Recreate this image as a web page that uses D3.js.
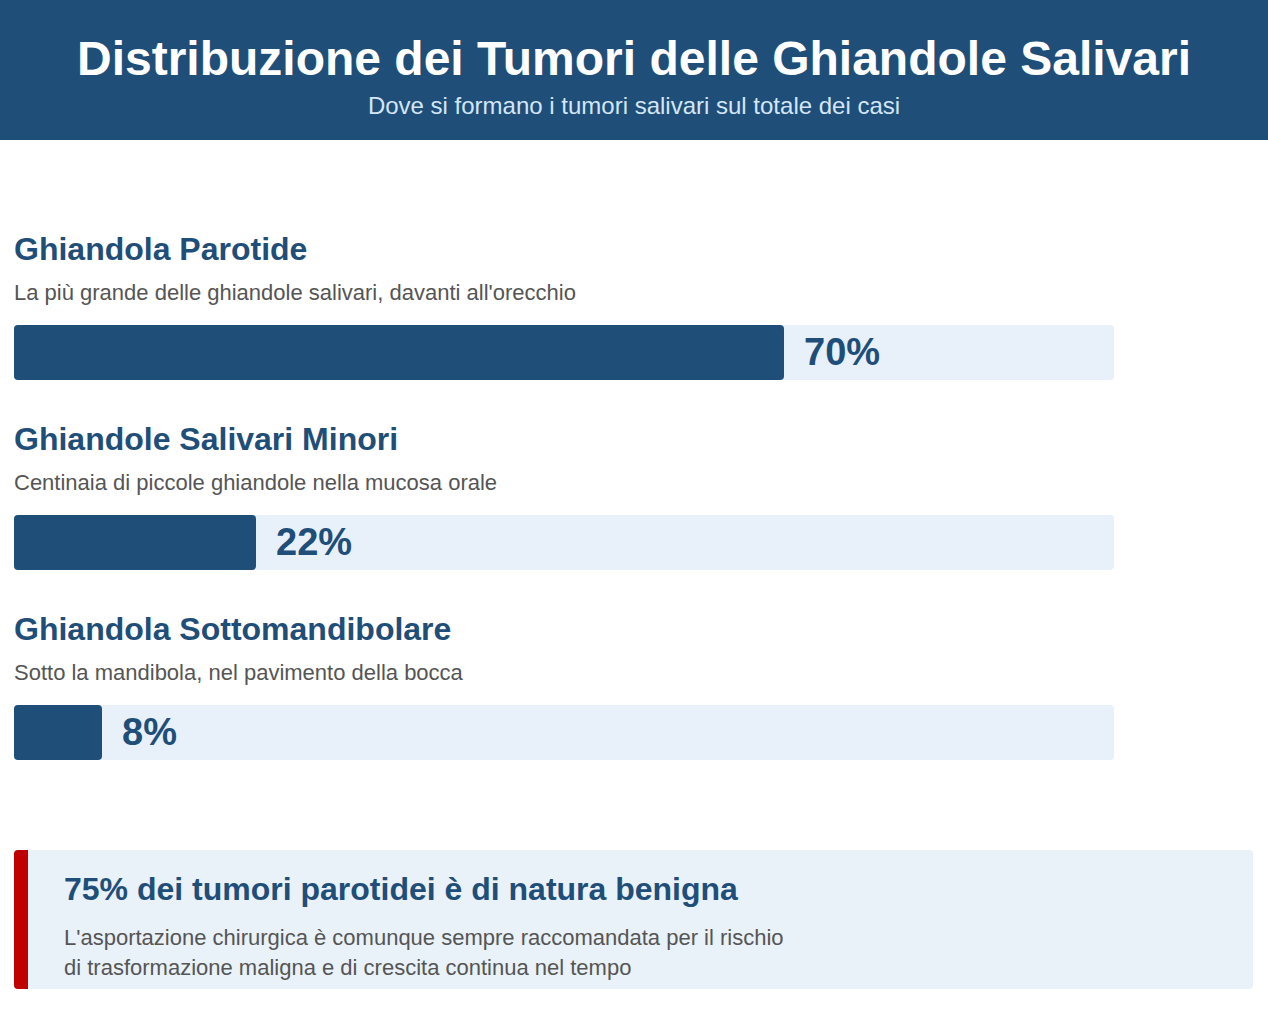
<!DOCTYPE html>
<html><head><meta charset="utf-8">
<script src="https://cdn.jsdelivr.net/npm/d3@7"></script>
<style>html,body{margin:0;padding:0;background:#fff;}svg{display:block;font-family:"Liberation Sans",Arial,sans-serif;}</style>
</head><body><div id="chart"></div>
<script>
const categories = ["Ghiandola Parotide","Ghiandole Salivari Minori","Ghiandola Sottomandibolare"];
const descriptions = ["La più grande delle ghiandole salivari, davanti all'orecchio","Centinaia di piccole ghiandole nella mucosa orale","Sotto la mandibola, nel pavimento della bocca"];
const values = [70,22,8];
const title = "Distribuzione dei Tumori delle Ghiandole Salivari";
const subtitle = "Dove si formano i tumori salivari sul totale dei casi";
const calloutTitle = "75% dei tumori parotidei è di natura benigna";
const calloutLines = ["L'asportazione chirurgica è comunque sempre raccomandata per il rischio","di trasformazione maligna e di crescita continua nel tempo"];

const W=1268,H=1010, dark="#1f4e79";
const svg=d3.select("#chart").append("svg").attr("width",W).attr("height",H);
svg.append("rect").attr("width",W).attr("height",140).attr("fill",dark);
svg.append("text").attr("x",W/2).attr("y",75).attr("text-anchor","middle").attr("fill","#fff")
  .attr("font-size",48).attr("font-weight","bold").text(title);
svg.append("text").attr("x",W/2).attr("y",114).attr("text-anchor","middle").attr("fill","#d4e6f7")
  .attr("font-size",24).text(subtitle);

const x=d3.scaleLinear().domain([0,100]).range([14,1114]);
const y=d3.scaleBand().domain(categories).range([230,800]);
const g=svg.selectAll("g.cat").data(categories).join("g").attr("class","cat")
  .attr("transform",d=>`translate(0,${y(d)})`);
g.append("text").attr("x",14).attr("y",30).attr("fill",dark).attr("font-size",32).attr("font-weight","bold").text(d=>d);
g.append("text").attr("x",14).attr("y",70).attr("fill","#555").attr("font-size",22).text((d,i)=>descriptions[i]);
g.append("rect").attr("x",x(0)).attr("y",95).attr("width",x(100)-x(0)).attr("height",55).attr("rx",4).attr("fill","#e8f1fa");
g.append("rect").attr("x",x(0)).attr("y",95).attr("width",(d,i)=>x(values[i])-x(0)).attr("height",55).attr("rx",4).attr("fill",dark);
g.append("text").attr("x",(d,i)=>x(values[i])+20).attr("y",135).attr("fill",dark).attr("font-size",38).attr("font-weight","bold").text((d,i)=>values[i]+"%");

const cb=svg.append("g").attr("transform","translate(14,850)");
cb.append("rect").attr("width",1239).attr("height",139).attr("rx",4).attr("fill","#e9f1f9");
cb.append("rect").attr("width",14).attr("height",139).attr("rx",4).attr("fill","#c00000");
cb.append("rect").attr("x",7).attr("width",7).attr("height",139).attr("fill","#c00000");
cb.append("text").attr("x",50).attr("y",50).attr("fill",dark).attr("font-size",32).attr("font-weight","bold").text(calloutTitle);
cb.selectAll("text.l").data(calloutLines).join("text").attr("class","l").attr("x",50).attr("y",(d,i)=>95+i*30)
  .attr("fill","#555").attr("font-size",22).text(d=>d);
</script></body></html>
